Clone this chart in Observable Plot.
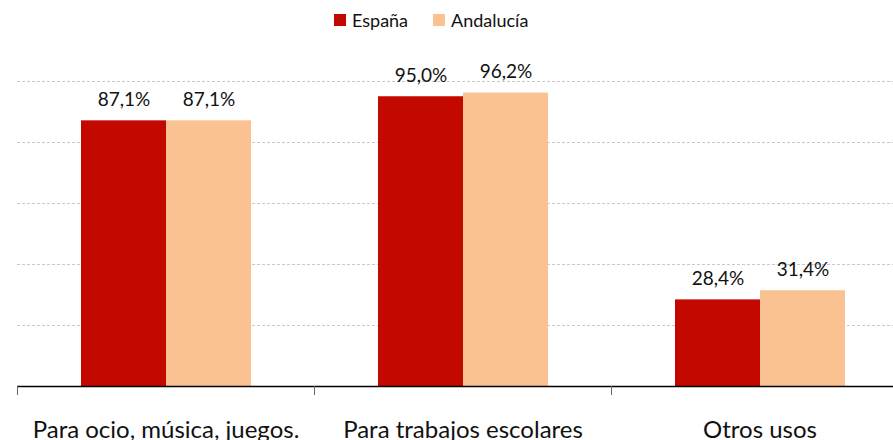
<!DOCTYPE html>
<html>
<head>
<meta charset="utf-8">
<script src="https://cdn.jsdelivr.net/npm/d3@7"></script>
<script src="https://cdn.jsdelivr.net/npm/@observablehq/plot@0.6"></script>
<style>
  html, body { margin: 0; padding: 0; background: #fff; overflow: hidden; width: 893px; height: 440px; }
  #legend { position: relative; height: 40px; font-family: Lato, "Open Sans", sans-serif; font-size: 18px; color: #111; }
  .item { position: absolute; top: 9px; display: flex; align-items: center; }
  .sw { width: 12px; height: 12px; margin-right: 6px; }
  #chart svg { display: block; max-width: none !important; }
</style>
</head>
<body>
<div id="legend"></div>
<div id="chart"></div>
<script>
const categories = ["Para ocio, música, juegos.", "Para trabajos escolares", "Otros usos"];
const seriesNames = ["España", "Andalucía"];
const espana = [87.1, 95.0, 28.4];
const andalucia = [87.1, 96.2, 31.4];
const gridTicks = [20, 40, 60, 80, 100];
const colors = ["#c30800", "#f9c290"];

const fmt = v => v.toFixed(1).replace(".", ",") + "%";
const rowsE = categories.map((c, i) => ({cat: c, value: espana[i], series: seriesNames[0]}));
const rowsA = categories.map((c, i) => ({cat: c, value: andalucia[i], series: seriesNames[1]}));

// legend
const legend = document.getElementById("legend");
const legendX = [334, 433];
seriesNames.forEach((s, i) => {
  const it = document.createElement("div");
  it.className = "item";
  it.style.left = legendX[i] + "px";
  it.innerHTML = `<span class="sw" style="background:${colors[i]}"></span><span>${s}</span>`;
  legend.appendChild(it);
});

const W = 908;
const chart = Plot.plot({
  width: W,
  height: 400,
  marginLeft: 17,
  marginRight: 0,
  marginTop: 41,
  marginBottom: 54,
  style: {fontFamily: "Lato, 'Open Sans', sans-serif", color: "#111", overflow: "visible", maxWidth: "none"},
  x: {domain: categories, padding: 0, label: null},
  y: {domain: [0, 100], axis: null},
  marks: [
    Plot.ruleY(gridTicks, {stroke: "#c9c9c9", strokeDasharray: "3,2"}),
    Plot.barY(rowsE, {x: "cat", y: "value", fill: colors[0], insetLeft: 64, insetRight: 148}),
    Plot.barY(rowsA, {x: "cat", y: "value", fill: colors[1], insetLeft: 149, insetRight: 63}),
    Plot.text(rowsE, {x: "cat", y: "value", text: d => fmt(d.value), dx: -42, dy: -15, lineAnchor: "bottom", fontSize: 19, fill: "#111"}),
    Plot.text(rowsA, {x: "cat", y: "value", text: d => fmt(d.value), dx: 43, dy: -15, lineAnchor: "bottom", fontSize: 19, fill: "#111"}),
    Plot.ruleY([0], {stroke: "#000", strokeWidth: 1.5}),
    Plot.ruleX(categories, {x: d => d, dx: -148.5, y1: 0, y2: 0, insetTop: 9, stroke: "#666"}),
    Plot.axisX({tickSize: 0, tickPadding: 34, fontSize: 24, fill: "#111"})
  ]
});
document.getElementById("chart").appendChild(chart);
</script>
</body>
</html>
